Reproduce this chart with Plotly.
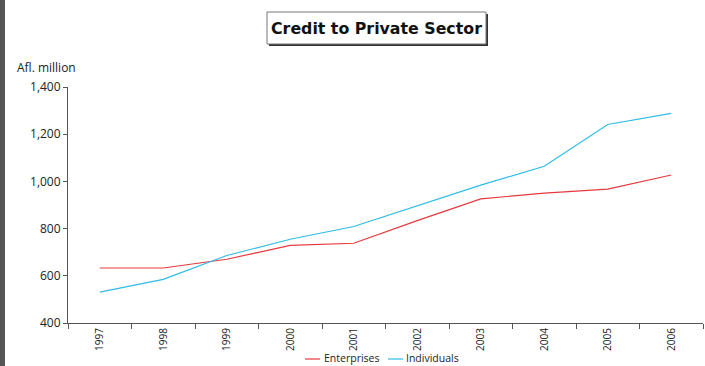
import plotly.graph_objects as go

years = ["1997", "1998", "1999", "2000", "2001", "2002", "2003", "2004", "2005", "2006"]
enterprises = [633, 633, 670, 729, 738, 834, 926, 950, 967, 1027]
individuals = [531, 585, 686, 755, 809, 897, 984, 1064, 1241, 1288]
series_names = ["Enterprises", "Individuals"]
series_colors = ["#e8383d", "#2ebce8"]

W, H = 705, 366
L, R, T, B = 68, 2, 87, 43
PW, PH = W - L - R, H - T - B


def px(x):
    return (x - L) / PW


def py(y):
    return (H - B - y) / PH


font = "'Open Sans', sans-serif"
axis_color = "#555555"

fig = go.Figure()
for name, vals, col in zip(series_names, [enterprises, individuals], series_colors):
    fig.add_trace(go.Scatter(x=years, y=vals, mode="lines", name=name,
                             line=dict(color=col, width=1.2)))

fig.update_layout(
    width=W, height=H,
    margin=dict(l=L, r=R, t=T, b=B, autoexpand=False),
    paper_bgcolor="white", plot_bgcolor="white",
    font=dict(family=font, size=11, color="#222222"),
    showlegend=False,
    xaxis=dict(type="category", range=[-0.5, 9.5], showline=True, linecolor=axis_color,
               linewidth=1, ticks="outside", tickson="boundaries", ticklen=5,
               tickcolor=axis_color, tickangle=-90, tickfont=dict(size=10),
               showgrid=False, zeroline=False, automargin=False),
    yaxis=dict(range=[400, 1400], dtick=200, tickformat=",", showline=True,
               linecolor=axis_color, linewidth=1, ticks="outside", ticklen=4,
               tickcolor=axis_color, showgrid=False, zeroline=False,
               tickfont=dict(size=12), automargin=False),
)

shapes = [
    # dark strip along the left edge
    dict(type="rect", xref="paper", yref="paper", x0=px(0), x1=px(5), y0=py(H), y1=py(0),
         fillcolor="#555555", line=dict(width=0), layer="above"),
    # title box shadow and box
    dict(type="rect", xref="paper", yref="paper", x0=px(269), x1=px(488), y0=py(46), y1=py(14),
         fillcolor="#333333", line=dict(width=0)),
    dict(type="rect", xref="paper", yref="paper", x0=px(267), x1=px(486), y0=py(44), y1=py(12),
         fillcolor="white", line=dict(color="#777777", width=1)),
]

# legend drawn below the axis: short line sample followed by the series name
legend_y = 358
legend_items = [(305, 320, 322), (388, 403, 404)]
for (x0, x1, tx), name, col in zip(legend_items, series_names, series_colors):
    shapes.append(dict(type="line", xref="paper", yref="paper", x0=px(x0), x1=px(x1),
                       y0=py(legend_y + 1), y1=py(legend_y + 1), line=dict(color=col, width=1.2)))
    fig.add_annotation(text=name, xref="paper", yref="paper", x=px(tx), y=py(legend_y),
                       xanchor="left", yanchor="middle", showarrow=False,
                       font=dict(size=10.5, color="#222222"))
fig.update_layout(shapes=shapes)

fig.add_annotation(text="<b>Credit to Private Sector</b>", xref="paper", yref="paper",
                   x=px(376.5), y=py(28), xanchor="center", yanchor="middle", showarrow=False,
                   font=dict(size=15.8, color="#111111", family="'DejaVu Sans', sans-serif"))
fig.add_annotation(text="Afl. million", xref="paper", yref="paper",
                   x=px(15), y=py(67), xanchor="left", yanchor="middle", showarrow=False,
                   font=dict(size=12, color="#222222"))

fig.write_html("out.html")
